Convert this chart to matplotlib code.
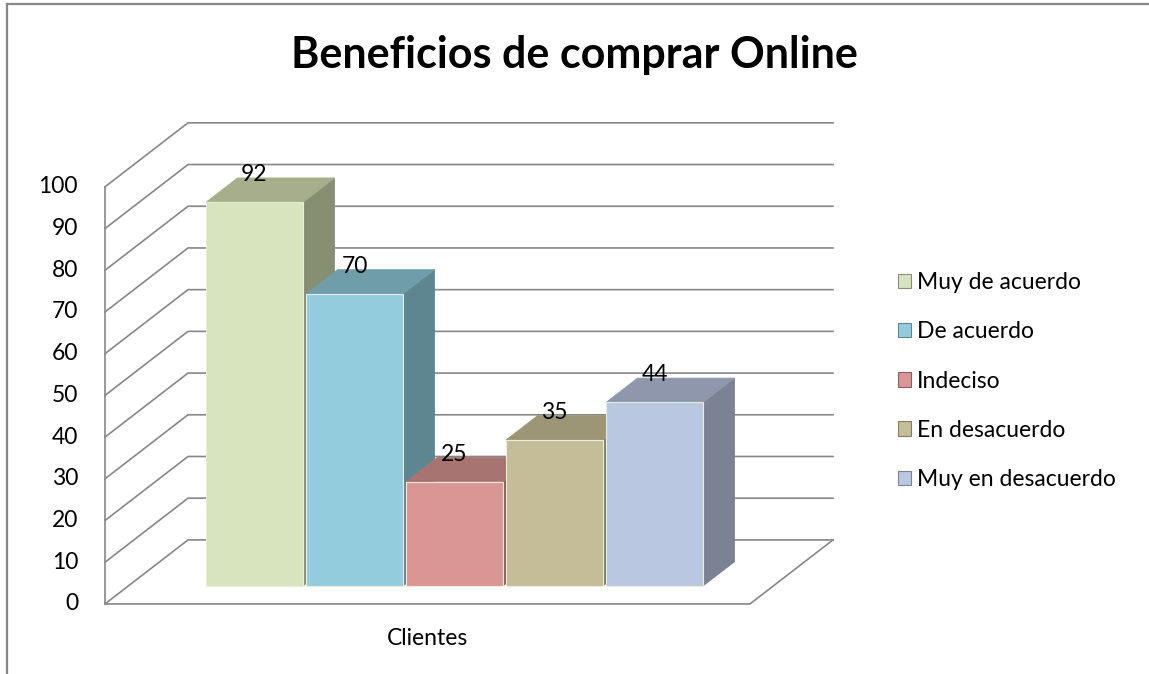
import matplotlib.pyplot as plt
from matplotlib.patches import Polygon, Patch
from matplotlib.lines import Line2D
import numpy as np

plt.rcParams['font.family'] = ['Lato', 'DejaVu Sans']

# datos de la encuesta
titulo = 'Beneficios de comprar Online'
grupo = 'Clientes'
categorias = ['Muy de acuerdo', 'De acuerdo', 'Indeciso', 'En desacuerdo', 'Muy en desacuerdo']
valores = [92, 70, 25, 35, 44]
ticks = list(range(0, 101, 10))

# colores: cara frontal, tapa, lateral
frente = ['#D7E4BD', '#93CDDD', '#D99694', '#C4BD97', '#B9C7E0']
tapa = ['#A6AE8B', '#6F9DA9', '#A87472', '#9D9676', '#8E97AB']
lado = ['#878F72', '#5E8691', '#8E5E5C', '#857F62', '#7A8293']
GRIS = '#878787'
FS = 16.5

# proyeccion oblicua: profundidad d en [0, 1]
DX, DV = 0.83, 15.35
def P(x, v, d):
    return (x + d * DX, v + d * DV)

X0, X1 = -1.01, 5.44        # bordes del suelo
DF, DB = 0.28, 0.66         # profundidad de las barras
W = 0.97

fig = plt.figure(figsize=(11.49, 6.74), dpi=100)
ax = fig.add_axes([0, 0, 1, 1])
ax.set_xlim(-2.06, 9.43)
ax.set_ylim(-16.8, 144.8)
ax.axis('off')

# pared izquierda y lineas de division
ax.plot([X0, X0], [0, ticks[-1]], color=GRIS, lw=1.2, zorder=1)
for t in ticks:
    a, b, c = P(X0, t, 0), P(X0, t, 1), P(X1, t, 1)
    ax.plot([a[0], b[0], c[0]], [a[1], b[1], c[1]], color=GRIS, lw=1.2, zorder=1)
    ax.text(-1.28, t, str(t), ha='right', va='center', fontsize=FS)

# suelo
suelo = [P(X0, 0, 0), P(X1, 0, 0), P(X1, 0, 1)]
ax.plot([p[0] for p in suelo], [p[1] for p in suelo], color=GRIS, lw=1.2, zorder=1)

# barras 3D
for i, v in enumerate(valores):
    x0 = i - DF * DX
    x1 = x0 + W
    ax.add_patch(Polygon([P(x1, 0, DF), P(x1, v, DF), P(x1, v, DB), P(x1, 0, DB)],
                         closed=True, fc=lado[i], ec=lado[i], lw=0.6, zorder=2 + i))
    ax.add_patch(Polygon([P(x0, v, DF), P(x1, v, DF), P(x1, v, DB), P(x0, v, DB)],
                         closed=True, fc=tapa[i], ec=tapa[i], lw=0.6, zorder=2 + i))
    ax.add_patch(Polygon([P(x0, 0, DF), P(x1, 0, DF), P(x1, v, DF), P(x0, v, DF)],
                         closed=True, fc=frente[i], ec='#E8EDDF', lw=0.8, zorder=2 + i))
    ax.text(P(x0 + W / 2, v, DF)[0], v + 10.9, str(v), ha='center', va='center',
            fontsize=FS, zorder=10)

ax.text((X0 + X1) / 2, -8.4, grupo, ha='center', va='center', fontsize=FS)

fig.text(0.5, 1 - 55 / 674, titulo, ha='center', va='center', fontsize=31, fontweight='bold')

# leyenda
handles = [Patch(fc=frente[i], ec=lado[i], lw=0.8) for i in range(len(categorias))]
fig.legend(handles, categorias, loc='center left', bbox_to_anchor=(898 / 1149, 1 - 381 / 674),
           frameon=False, fontsize=FS, handlelength=0.58, handleheight=0.58,
           handletextpad=0.25, labelspacing=1.23, borderaxespad=0, borderpad=0)

# marco del grafico
fig.add_artist(Line2D([7 / 1149, 1], [1 - 4 / 674, 1 - 4 / 674], color='#868686', lw=1.6))
fig.add_artist(Line2D([7 / 1149, 7 / 1149], [0, 1 - 4 / 674], color='#868686', lw=1.6))

fig.savefig('out.png', dpi=100)
